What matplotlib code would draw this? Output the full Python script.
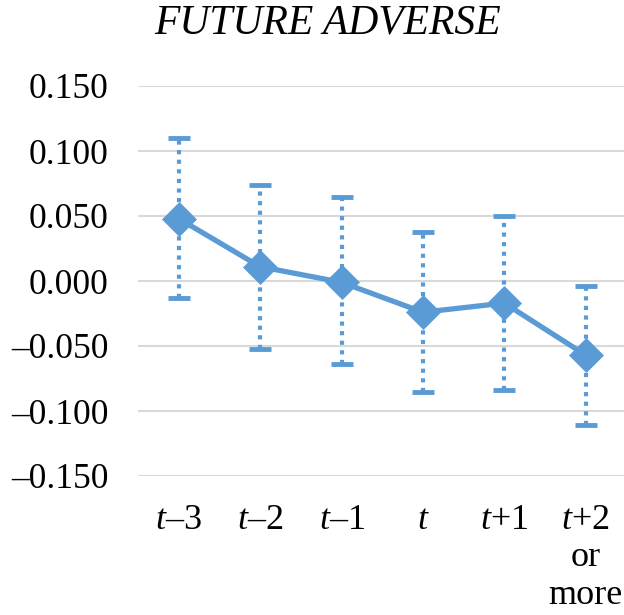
import matplotlib
matplotlib.use("Agg")
import matplotlib.pyplot as plt
import numpy as np

categories = ["$t$\u20133", "$t$\u20132", "$t$\u20131", "$t$", "$t$+1", "$t$+2\nor\nmore"]
estimates = [0.048, 0.011, -0.001, -0.024, -0.017, -0.057]
upper = [0.110, 0.074, 0.065, 0.038, 0.050, -0.004]
lower = [-0.013, -0.052, -0.064, -0.085, -0.084, -0.111]
yticks = [-0.15, -0.10, -0.05, 0.0, 0.05, 0.10, 0.15]

plt.rcParams['font.family'] = ['Liberation Serif']
plt.rcParams['mathtext.fontset'] = 'custom'
plt.rcParams['mathtext.rm'] = 'Liberation Serif'
plt.rcParams['mathtext.it'] = 'Liberation Serif:italic'

color = '#5B9BD5'
fig = plt.figure(figsize=(6.24, 6.15), dpi=100)
ax = fig.add_axes([138/624, 1-476/615, (624-138)/624, (476-86)/615])

x = np.arange(len(categories))
est = np.array(estimates)
yerr = [est - np.array(lower), np.array(upper) - est]

eb = ax.errorbar(x, est, yerr=yerr, fmt='none', ecolor=color, elinewidth=3.0,
                 capsize=8, capthick=3.5, zorder=2)
for lc in eb[2]:
    lc.set_linestyle((0, (1.0, 1.3)))
    lc.set_capstyle('butt')

ax.plot(x, est, color=color, lw=3.8, marker='D', ms=17, mec=color, mew=0.5, zorder=3)

ax.set_ylim(-0.15, 0.15)
ax.set_xlim(-0.5, 5.47)
ax.set_yticks(yticks)
ax.set_yticklabels([('\u2013' if v < 0 else '') + f"{abs(v):.3f}" for v in yticks])
ax.set_xticks(x)
ax.set_xticklabels(categories, linespacing=1.18)
ax.tick_params(axis='y', length=0, pad=21, labelsize=25.5)
ax.tick_params(axis='x', length=0, pad=20, labelsize=26)
for s in ax.spines.values():
    s.set_visible(False)
ax.yaxis.grid(True, color='#D9D9D9', lw=1.5)
ax.set_axisbelow(True)

fig.text(328/624, 1-23/615, "FUTURE ADVERSE", ha='center', va='center',
         fontsize=30, style='italic')

fig.savefig("out.png", dpi=100)
